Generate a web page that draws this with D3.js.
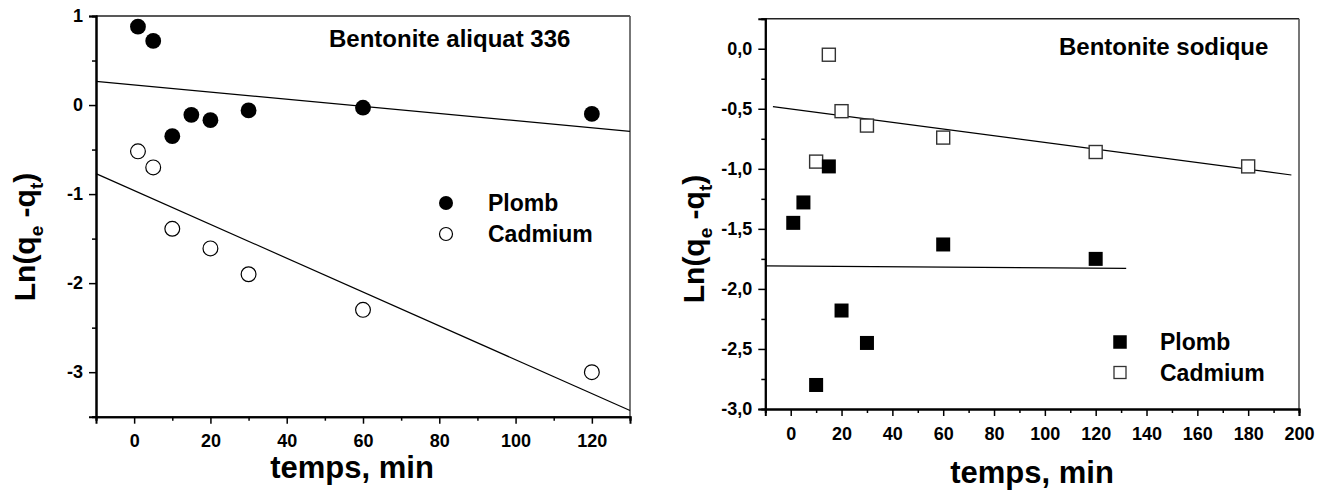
<!DOCTYPE html>
<html>
<head>
<meta charset="utf-8">
<script src="https://cdn.jsdelivr.net/npm/d3@7"></script>
<style>
  html, body { margin: 0; padding: 0; background: #fff; }
  svg { display: block; font-family: "Liberation Sans", Arial, sans-serif; font-weight: bold; }
</style>
</head>
<body>
<svg id="chart" width="1325" height="490"></svg>
<script>
// ---- Bentonite aliquat 336 (left) ----
const aliquatTimesPb = [1, 5, 10, 15, 20, 30, 60, 120];
const aliquatPb      = [0.88, 0.72, -0.35, -0.11, -0.17, -0.06, -0.03, -0.10];
const aliquatTimesCd = [1, 5, 10, 20, 30, 60, 120];
const aliquatCd      = [-0.52, -0.70, -1.39, -1.61, -1.90, -2.30, -3.00];
// linear fits: [intercept, slope] and x extent
const aliquatFitPb = [0.225, -0.004];
const aliquatFitCd = [-0.96, -0.019];
const aliquatFitRangePb = [-10, 130];
const aliquatFitRangeCd = [-10, 130];
const aliquatXTicks = [0, 20, 40, 60, 80, 100, 120];
const aliquatYTicks = [1, 0, -1, -2, -3];

// ---- Bentonite sodique (right) ----
const sodiqueTimesPb = [1, 5, 10, 15, 20, 30, 60, 120];
const sodiquePb      = [-1.45, -1.28, -2.80, -0.98, -2.18, -2.45, -1.63, -1.75];
const sodiqueTimesCd = [10, 15, 20, 30, 60, 120, 180];
const sodiqueCd      = [-0.94, -0.05, -0.52, -0.64, -0.74, -0.86, -0.98];
const sodiqueFitPb = [-1.81, -0.00015];
const sodiqueFitCd = [-0.502, -0.00279];
const sodiqueFitRangePb = [-10, 132];
const sodiqueFitRangeCd = [-7, 197];
const sodiqueXTicks = [0, 20, 40, 60, 80, 100, 120, 140, 160, 180, 200];
const sodiqueYTicks = [0, -0.5, -1, -1.5, -2, -2.5, -3];

const seriesNames = ["Plomb", "Cadmium"];

const svg = d3.select("#chart");

function range(a, b, step) {
  const out = [];
  for (let v = a; v <= b + 1e-9; v += step) out.push(+v.toFixed(4));
  return out;
}

// plain hyphen for negative numbers
const hyphen = f => v => f(v).replace("\u2212", "-");

function drawPanel(cfg) {
  const g = svg.append("g");
  const x = d3.scaleLinear().domain(cfg.xDomain).range(cfg.xRange);
  const y = d3.scaleLinear().domain(cfg.yDomain).range(cfg.yRange);
  const [x0, x1] = cfg.xRange;
  const [yb, yt] = cfg.yRange;

  // frame: top and right borders
  g.append("line").attr("x1", x0).attr("x2", x1).attr("y1", yt).attr("y2", yt)
    .attr("stroke", "#222").attr("stroke-width", 1.5);
  g.append("line").attr("x1", x1).attr("x2", x1).attr("y1", yt).attr("y2", yb)
    .attr("stroke", "#555").attr("stroke-width", 1.6);

  // minor ticks
  const xMinor = range(cfg.xDomain[0], cfg.xDomain[1], cfg.xMinorStep)
    .filter(v => !cfg.xTicks.includes(v));
  const yMinor = range(cfg.yDomain[0], cfg.yDomain[1], cfg.yMinorStep)
    .filter(v => !cfg.yTicks.includes(v));

  const xMinorAxis = g.append("g").attr("transform", `translate(0,${yb})`)
    .call(d3.axisBottom(x).tickValues(xMinor).tickSize(4).tickFormat(""));
  const yMinorAxis = g.append("g").attr("transform", `translate(${x0},0)`)
    .call(d3.axisLeft(y).tickValues(yMinor).tickSize(4).tickFormat(""));

  const xAxis = g.append("g").attr("transform", `translate(0,${yb})`)
    .call(d3.axisBottom(x).tickValues(cfg.xTicks).tickSize(7).tickPadding(11)
      .tickFormat(d3.format("d")));
  const yAxis = g.append("g").attr("transform", `translate(${x0},0)`)
    .call(d3.axisLeft(y).tickValues(cfg.yTicks).tickSize(7).tickPadding(6)
      .tickFormat(cfg.yFormat));

  [xMinorAxis, yMinorAxis, xAxis, yAxis].forEach(a => {
    a.select(".domain").attr("stroke", "#000").attr("stroke-width", 2);
    a.selectAll(".tick line").attr("stroke", "#000").attr("stroke-width", 1.5);
    a.selectAll(".tick text").attr("fill", "#000")
      .style("font-size", "18px").style("font-weight", "bold")
      .style("font-family", "'Liberation Sans', Arial, sans-serif");
  });

  // fit lines
  const fits = [[cfg.fitPb, cfg.fitRangePb], [cfg.fitCd, cfg.fitRangeCd]];
  fits.forEach(([f, r]) => {
    g.append("line")
      .attr("x1", x(r[0])).attr("y1", y(f[0] + f[1] * r[0]))
      .attr("x2", x(r[1])).attr("y2", y(f[0] + f[1] * r[1]))
      .attr("stroke", "#000").attr("stroke-width", 1.2);
  });

  // markers
  const pb = cfg.timesPb.map((t, i) => [t, cfg.pb[i]]);
  const cd = cfg.timesCd.map((t, i) => [t, cfg.cd[i]]);
  if (cfg.shape === "circle") {
    g.selectAll(".cd").data(cd).join("circle")
      .attr("cx", d => x(d[0])).attr("cy", d => y(d[1])).attr("r", 7.4)
      .attr("fill", "#fff").attr("stroke", "#000").attr("stroke-width", 1.2);
    g.selectAll(".pb").data(pb).join("circle")
      .attr("cx", d => x(d[0])).attr("cy", d => y(d[1])).attr("r", 7.9)
      .attr("fill", "#000");
  } else {
    g.selectAll(".cd").data(cd).join("rect")
      .attr("x", d => x(d[0]) - 6.5).attr("y", d => y(d[1]) - 6.5)
      .attr("width", 13).attr("height", 13)
      .attr("fill", "#fff").attr("stroke", "#333").attr("stroke-width", 1.4);
    g.selectAll(".pb").data(pb).join("rect")
      .attr("x", d => x(d[0]) - 7).attr("y", d => y(d[1]) - 7)
      .attr("width", 14).attr("height", 14)
      .attr("fill", "#000");
  }

  // panel title
  g.append("text").attr("x", cfg.title.x).attr("y", cfg.title.y)
    .style("font-size", "24px").text(cfg.title.text);

  // legend
  seriesNames.forEach((name, i) => {
    const ly = cfg.legend.y + i * cfg.legend.gap;
    if (cfg.shape === "circle") {
      g.append("circle").attr("cx", cfg.legend.x).attr("cy", ly)
        .attr("r", i === 0 ? 7 : 6.5)
        .attr("fill", i === 0 ? "#000" : "#fff")
        .attr("stroke", "#000").attr("stroke-width", i === 0 ? 0 : 1.2);
    } else {
      const s = i === 0 ? 13.5 : 12;
      g.append("rect").attr("x", cfg.legend.x - s / 2).attr("y", ly - s / 2)
        .attr("width", s).attr("height", s)
        .attr("fill", i === 0 ? "#000" : "#fff")
        .attr("stroke", i === 0 ? "none" : "#333").attr("stroke-width", 1.3);
    }
    g.append("text").attr("x", cfg.legend.tx).attr("y", ly + 8)
      .style("font-size", "23px").text(name);
  });

  // axis titles
  g.append("text").attr("x", cfg.xTitle.x).attr("y", cfg.xTitle.y)
    .attr("text-anchor", "middle").style("font-size", "31px").text("temps, min");

  const yt2 = g.append("text")
    .attr("transform", `translate(${cfg.yTitle.x},${cfg.yTitle.y}) rotate(-90)`)
    .attr("text-anchor", "middle").style("font-size", "30px");
  yt2.append("tspan").text("Ln(q");
  yt2.append("tspan").attr("dy", 8).style("font-size", "19px").text("e");
  yt2.append("tspan").attr("dy", -8).text(" -q");
  yt2.append("tspan").attr("dy", 8).style("font-size", "19px").text("t");
  yt2.append("tspan").attr("dy", -8).text(")");
}

drawPanel({
  xDomain: [-10, 130], xRange: [96, 630],
  yDomain: [-3.5, 1], yRange: [416.7, 16],
  xTicks: aliquatXTicks, yTicks: aliquatYTicks,
  xMinorStep: 10, yMinorStep: 0.5,
  yFormat: hyphen(d3.format("d")),
  timesPb: aliquatTimesPb, pb: aliquatPb, timesCd: aliquatTimesCd, cd: aliquatCd,
  fitPb: aliquatFitPb, fitCd: aliquatFitCd,
  fitRangePb: aliquatFitRangePb, fitRangeCd: aliquatFitRangeCd,
  shape: "circle",
  title: { x: 329, y: 47, text: "Bentonite aliquat 336" },
  legend: { x: 446, y: 203, gap: 31, tx: 488 },
  xTitle: { x: 352, y: 478 },
  yTitle: { x: 35, y: 237 }
});

drawPanel({
  xDomain: [-10, 200], xRange: [765.3, 1299],
  yDomain: [-3, 0.25], yRange: [409, 18.7],
  xTicks: sodiqueXTicks, yTicks: sodiqueYTicks,
  xMinorStep: 10, yMinorStep: 0.25,
  yFormat: hyphen(v => d3.format(".1f")(v).replace(".", ",")),
  timesPb: sodiqueTimesPb, pb: sodiquePb, timesCd: sodiqueTimesCd, cd: sodiqueCd,
  fitPb: sodiqueFitPb, fitCd: sodiqueFitCd,
  fitRangePb: sodiqueFitRangePb, fitRangeCd: sodiqueFitRangeCd,
  shape: "square",
  title: { x: 1059, y: 55, text: "Bentonite sodique" },
  legend: { x: 1120, y: 342, gap: 30.5, tx: 1160 },
  xTitle: { x: 1032, y: 483 },
  yTitle: { x: 704, y: 239 }
});
</script>
</body>
</html>
